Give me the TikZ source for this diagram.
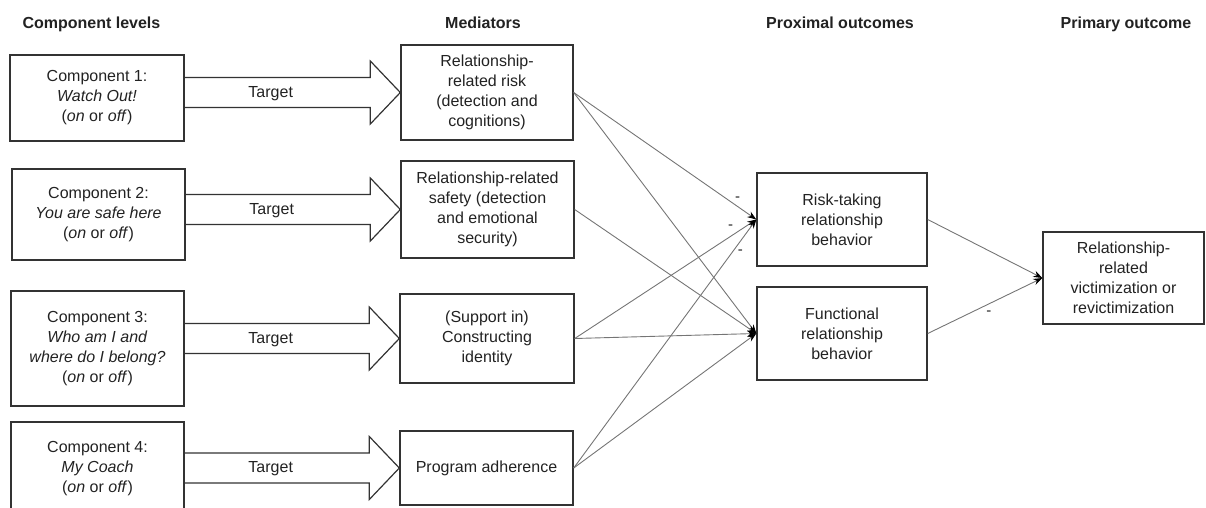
\documentclass[tikz,border=0pt]{standalone}
\usepackage{fontspec}
\setmainfont{Liberation Sans}
\usetikzlibrary{calc,arrows.meta}
\definecolor{boxline}{HTML}{333333}
\definecolor{edgeline}{HTML}{757575}
\definecolor{txt}{HTML}{222222}
\newcommand\targetarrow[2]{%
  \draw[barrow] let \p1=(#1.east), \p2=(#2.west) in
    (\x1,\y2+15pt) -- (\x2-30pt,\y2+15pt) -- (\x2-30pt,\y2+31.5pt) -- (\x2,\y2)
    -- (\x2-30pt,\y2-31.5pt) -- (\x2-30pt,\y2-15pt) -- (\x1,\y2-15pt)
    (\x1+86pt,\y2-1pt) node {Target};}
\begin{document}
\begin{tikzpicture}[x=1pt,y=-1pt,
  every node/.style={font=\fontsize{16}{20}\selectfont, text=txt},
  box/.style={draw=boxline, line width=1.4pt, align=center, inner sep=0pt},
  head/.style={font=\fontsize{16}{20}\selectfont\bfseries, anchor=base},
  barrow/.style={draw=boxline, line width=1.2pt, line join=miter},
  edge/.style={draw=edgeline, line width=0.9pt, -{Stealth[length=9pt,width=6.5pt,color=black]}},
  minus/.style={font=\fontsize{15}{15}\selectfont, inner sep=0pt}
]
\useasboundingbox (0,0) rectangle (1206,507);

% headers
\node[head, anchor=base west] (h1) at (19,28) {Component levels};
\node[head] (h2) at (483,28) {Mediators};
\node[head] (h3) at (840,28) {Proximal outcomes};
\node[head] (h4) at (1126,28) {Primary outcome};

% component boxes
\node[box, minimum width=174pt, minimum height=86pt] (c1) at (97,98)
  {Component 1:\\\textit{Watch Out!}\\(\textit{on} or \textit{off})};
\node[box, minimum width=173pt, minimum height=91pt] (c2) at (98.5,214.5)
  {Component 2:\\\textit{You are safe here}\\(\textit{on} or \textit{off})};
\node[box, minimum width=173pt, minimum height=115pt] (c3) at (97.5,348.5)
  {Component 3:\\\textit{Who am I and}\\\textit{where do I belong?}\\(\textit{on} or \textit{off})};
\node[box, minimum width=173pt, minimum height=94pt] (c4) at (97.5,469)
  {Component 4:\\\textit{My Coach}\\(\textit{on} or \textit{off})};

% mediator boxes
\node[box, minimum width=172pt, minimum height=95pt] (m1) at (487,92.5)
  {Relationship-\\related risk\\(detection and\\cognitions)};
\node[box, minimum width=173pt, minimum height=97pt] (m2) at (487.5,209.5)
  {Relationship-related\\safety (detection\\and emotional\\security)};
\node[box, minimum width=174pt, minimum height=89pt] (m3) at (487,338.5)
  {(Support in)\\Constructing\\identity};
\node[box, minimum width=173pt, minimum height=74pt] (m4) at (486.5,468)
  {Program adherence};

% proximal outcomes
\node[box, minimum width=170pt, minimum height=93pt] (p1) at (842,219.5)
  {Risk-taking\\relationship\\behavior};
\node[box, minimum width=170pt, minimum height=93pt] (p2) at (842,333.5)
  {Functional\\relationship\\behavior};

% primary outcome
\node[box, minimum width=161pt, minimum height=92pt] (po) at (1123.5,278)
  {Relationship-\\related\\victimization or\\revictimization};

% block arrows
\targetarrow{c1}{m1}
\targetarrow{c2}{m2}
\targetarrow{c3}{m3}
\targetarrow{c4}{m4}

% connectors
\draw[edge] (m1.east) -- node[minus, pos=0.897, yshift=7.7pt] {-} (p1.west);
\draw[edge] (m1.east) -- (p2.west);
\draw[edge] (m2.east) -- (p2.west);
\draw[edge] (m3.east) -- node[minus, pos=0.858, yshift=9.4pt] {-} (p1.west);
\draw[edge] (m3.east) -- (p2.west);
\draw[edge] (m4.east) -- node[minus, pos=0.913, yshift=-10.9pt] {-} (p1.west);
\draw[edge] (m4.east) -- (p2.west);
\draw[edge] (p1.east) -- (po.west);
\draw[edge] (p2.east) -- node[minus, pos=0.534, yshift=-9pt] {-} (po.west);
\end{tikzpicture}
\end{document}
